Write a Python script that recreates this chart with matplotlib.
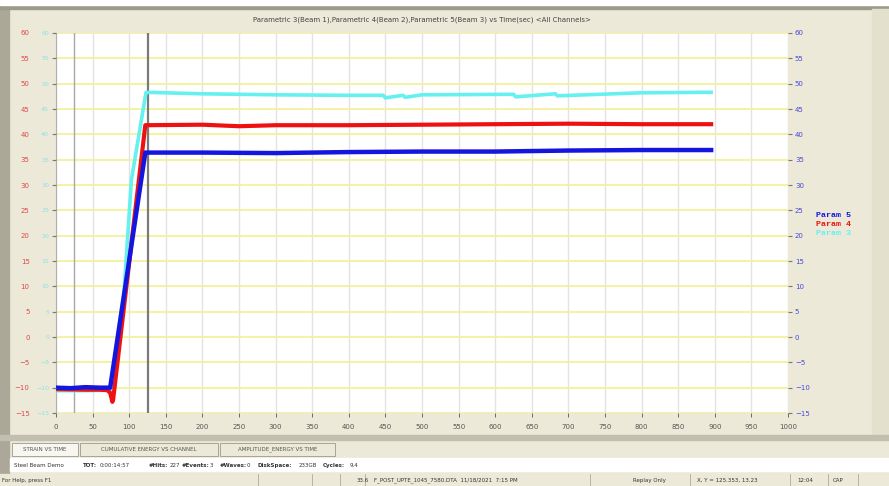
import matplotlib
matplotlib.use("Agg")
import matplotlib.pyplot as plt
from matplotlib.patches import Rectangle

# --- data ---
t_p5 = [0, 20, 40, 60, 74, 122, 200, 300, 400, 500, 600, 700, 800, 895]
p5 = [-10.0, -10.1, -9.9, -10.0, -10.0, 36.4, 36.4, 36.3, 36.5, 36.6, 36.6, 36.8, 36.9, 36.9]

t_p4 = [0, 40, 60, 70, 74, 77, 78, 122, 200, 250, 300, 400, 500, 600, 700, 800, 895]
p4 = [-10.3, -10.4, -10.4, -10.5, -11.0, -12.8, -12.4, 41.8, 41.9, 41.6, 41.8, 41.8, 41.9, 42.0, 42.1, 42.0, 42.0]

t_p3 = [0, 40, 74, 93, 103, 123, 200, 300, 400, 447, 450, 474, 477, 500, 625, 628, 682, 685, 800, 895]
p3 = [-10.6, -10.6, -10.5, 9.0, 31.0, 48.3, 48.0, 47.8, 47.7, 47.7, 47.2, 47.7, 47.3, 47.8, 47.9, 47.4, 48.0, 47.6, 48.2, 48.3]

x_ticks = list(range(0, 1001, 50))
y_ticks = list(range(-15, 61, 5))
markers_x = [25, 125]

title = "Parametric 3(Beam 1),Parametric 4(Beam 2),Parametric 5(Beam 3) vs Time(sec) <All Channels>"
tabs = ["STRAIN VS TIME", "CUMULATIVE ENERGY VS CHANNEL", "AMPLITUDE_ENERGY VS TIME"]

W, H = 889, 486
BEIGE = "#ECE9D8"


def fx(x):
    return x / W


def fy(y):
    return 1 - y / H


fig = plt.figure(figsize=(W / 100, H / 100), dpi=100, facecolor=BEIGE)

# window chrome
fig.patches.append(Rectangle((0, 0), fx(9), 1, transform=fig.transFigure, color="#ACA899", zorder=0))
fig.patches.append(Rectangle((0, fy(9)), 1, 3 / H, transform=fig.transFigure, color="#9D9A8C", zorder=0))
fig.patches.append(Rectangle((0, fy(5)), 1, 5 / H, transform=fig.transFigure, color="white", zorder=0))
fig.patches.append(Rectangle((fx(872), fy(435)), fx(17), 426 / H, transform=fig.transFigure, color="#E4E0CE", zorder=0))
fig.patches.append(Rectangle((0, fy(440)), 1, 5 / H, transform=fig.transFigure, color="#C2BFB0", zorder=0))
fig.patches.append(Rectangle((fx(10), fy(471)), fx(879), 13 / H, transform=fig.transFigure, color="white", zorder=0))
fig.patches.append(Rectangle((0, 0), 1, 12 / H, transform=fig.transFigure, color=BEIGE, zorder=0))

ax = fig.add_axes([fx(56), fy(413), fx(788 - 56), (413 - 33) / H])
ax.set_facecolor("white")

ax.plot(t_p3, p3, color="#66F0F0", lw=2.6, solid_joinstyle="round", zorder=3, label="Param 3")
ax.plot(t_p4, p4, color="#EE1111", lw=3.0, solid_joinstyle="round", zorder=4, label="Param 4")
ax.plot(t_p5, p5, color="#1515E0", lw=3.2, solid_joinstyle="round", zorder=5, label="Param 5")

ax.axvline(markers_x[0], color="#A8A8A8", lw=1.0, zorder=2)
ax.axvline(markers_x[1], color="#7A7A7A", lw=1.6, zorder=2)

ax.set_xlim(0, 1000)
ax.set_ylim(-15, 60)
ax.set_xticks(x_ticks)
ax.set_yticks(y_ticks)
ax.grid(axis="x", color="#E3E3E3", lw=1.0, zorder=1)
ax.grid(axis="y", color="#F3F19A", lw=1.3, zorder=1)
ax.tick_params(axis="x", labelsize=5, colors="#555555", length=3, pad=5, width=0.6)
ax.tick_params(axis="y", labelsize=5, labelcolor="#E04848", color="#888888", length=3, pad=16)
for s in ["top", "right", "bottom"]:
    ax.spines[s].set_visible(False)
ax.spines["left"].set_color("#B0B0B0")

ax.set_title(title, fontsize=5, color="#444444", pad=8)

# cyan scale on the left
ax_c = ax.twinx()
ax_c.set_ylim(ax.get_ylim())
ax_c.set_yticks(y_ticks)
ax_c.yaxis.tick_left()
ax_c.tick_params(axis="y", labelsize=4.5, labelcolor="#8EE2E2", color="#777777", length=2, pad=3)
for s in ax_c.spines.values():
    s.set_visible(False)

# blue scale on the right
ax_b = ax.twinx()
ax_b.set_ylim(ax.get_ylim())
ax_b.set_yticks(y_ticks)
ax_b.tick_params(axis="y", labelsize=5, labelcolor="#4848D8", color="#777777", length=3, pad=2)
for s in ax_b.spines.values():
    s.set_visible(False)

h, l = ax.get_legend_handles_labels()
leg = fig.legend(h[::-1], l[::-1], loc="upper left", bbox_to_anchor=(fx(808), fy(204)),
                 frameon=False, handlelength=0, handletextpad=0, labelcolor="linecolor",
                 prop={"family": "Liberation Mono", "size": 6, "weight": "bold"}, labelspacing=0.1)
for line in leg.get_lines():
    line.set_visible(False)

# tabs
tab_x = [(12, 78), (80, 218), (220, 335)]
for i, (name, (x0, x1)) in enumerate(zip(tabs, tab_x)):
    fc = "#F7F6F0" if i == 0 else BEIGE
    fig.patches.append(Rectangle((fx(x0), fy(456)), fx(x1 - x0), 13 / H, transform=fig.transFigure,
                                 fc=fc, ec="#9D9A8C", lw=0.6, zorder=1))
    fig.text(fx((x0 + x1) / 2), fy(449.5), name, fontsize=4, color="#555555", ha="center", va="center")

# status line
status = [(14, "Steel Beam Demo", "normal"), (83, "TOT:", "bold"), (100, "0:00:14:57", "normal"),
          (149, "#Hits:", "bold"), (170, "227", "normal"), (182, "#Events:", "bold"), (210, "3", "normal"),
          (220, "#Waves:", "bold"), (247, "0", "normal"), (258, "DiskSpace:", "bold"),
          (299, "233GB", "normal"), (323, "Cycles:", "bold"), (350, "9.4", "normal")]
for x, s, w in status:
    fig.text(fx(x), fy(465), s, fontsize=4, color="#333333", weight=w, va="center")

# bottom status bar
for x in [258, 312, 340, 365, 590, 690, 790, 828, 858]:
    fig.add_artist(plt.Line2D([fx(x), fx(x)], [0, fy(474)], transform=fig.transFigure, color="#B0AC9C", lw=0.6))
bottom = [(2, "For Help, press F1"), (357, "33.6"), (374, "F_POST_UPTE_1045_7580.DTA  11/18/2021  7:15 PM"),
          (633, "Replay Only"), (697, "X, Y = 125.353, 13.23"), (797, "12:04"), (833, "CAP")]
for x, s in bottom:
    fig.text(fx(x), fy(480), s, fontsize=4, color="#333333", va="center")

fig.savefig("out.png", dpi=100, facecolor=BEIGE)
